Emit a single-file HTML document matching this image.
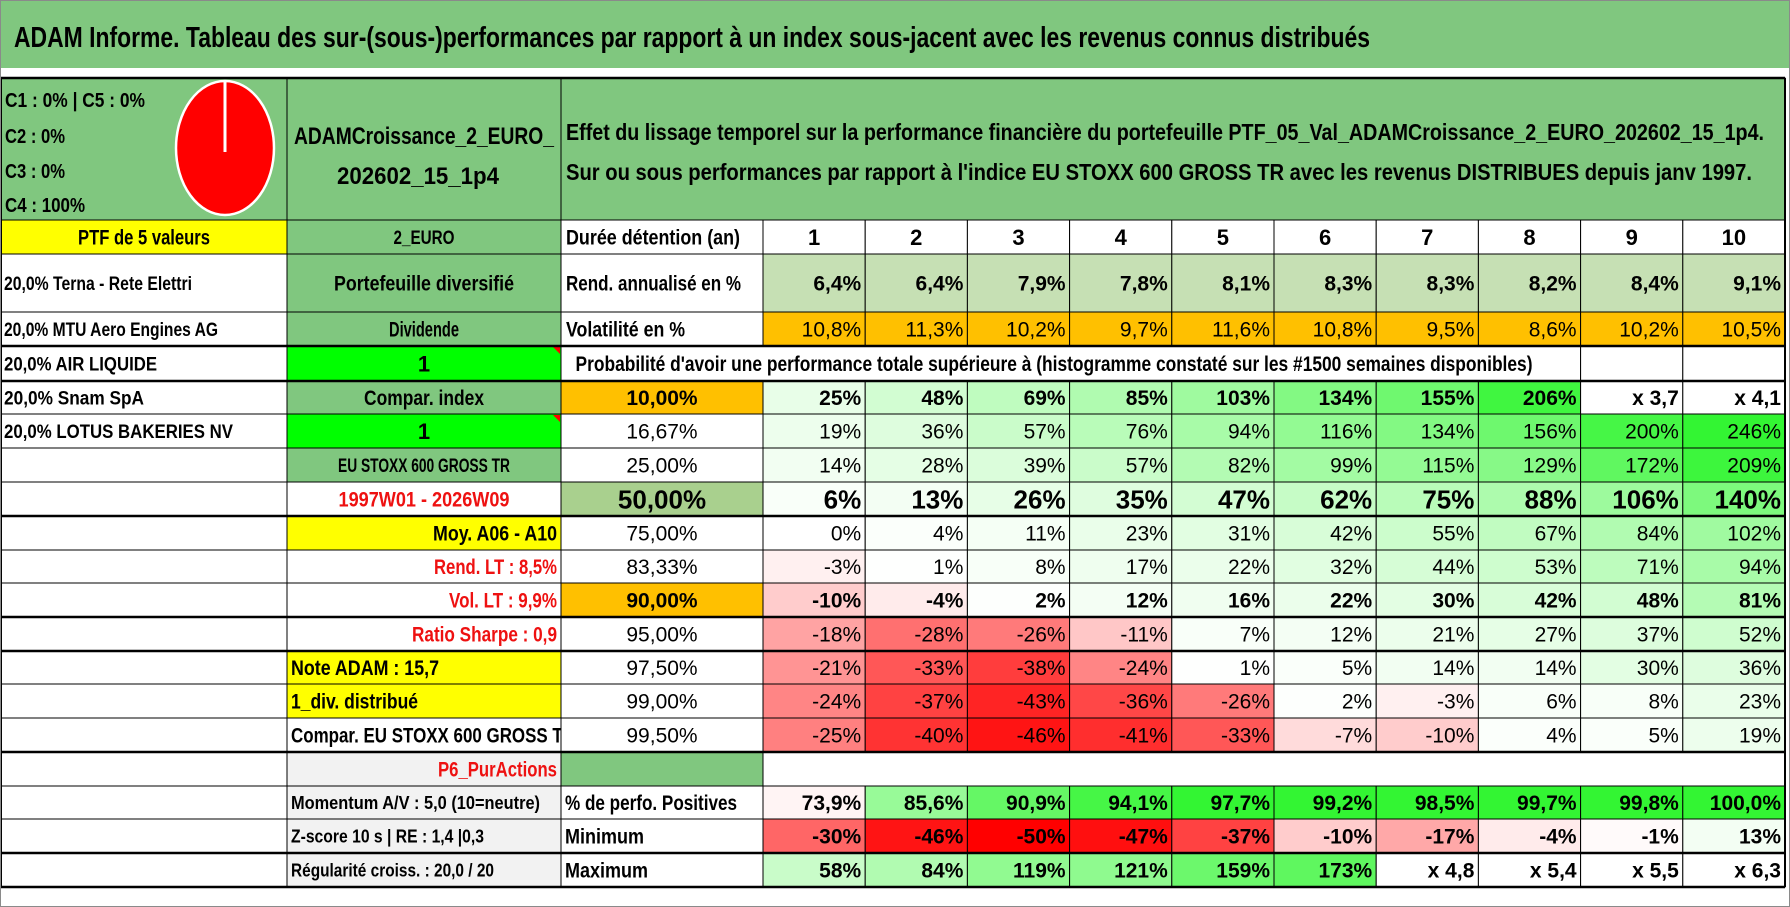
<!DOCTYPE html>
<html><head><meta charset="utf-8"><title>ADAM Informe</title>
<style>
html,body{margin:0;padding:0;background:#fff;width:1790px;height:907px;overflow:hidden}
svg{display:block}
text{font-family:"Liberation Sans",sans-serif}
</style></head>
<body>
<svg id="sheet" xmlns="http://www.w3.org/2000/svg" width="1790" height="907" viewBox="0 0 1790 907"></svg>
<script>
const years=["1","2","3","4","5","6","7","8","9","10"];
const rendValues=["6,4%","6,4%","7,9%","7,8%","8,1%","8,3%","8,3%","8,2%","8,4%","9,1%"];
const volValues=["10,8%","11,3%","10,2%","9,7%","11,6%","10,8%","9,5%","8,6%","10,2%","10,5%"];
const probLabels=["10,00%","16,67%","25,00%","50,00%","75,00%","83,33%","90,00%","95,00%","97,50%","99,00%","99,50%"];
const probValues=[
 [25,48,69,85,103,134,155,206,"x 3,7","x 4,1"],
 [19,36,57,76,94,116,134,156,200,246],
 [14,28,39,57,82,99,115,129,172,209],
 [6,13,26,35,47,62,75,88,106,140],
 [0,4,11,23,31,42,55,67,84,102],
 [-3,1,8,17,22,32,44,53,71,94],
 [-10,-4,2,12,16,22,30,42,48,81],
 [-18,-28,-26,-11,7,12,21,27,37,52],
 [-21,-33,-38,-24,1,5,14,14,30,36],
 [-24,-37,-43,-36,-26,2,-3,6,8,23],
 [-25,-40,-46,-41,-33,-7,-10,4,5,19]
];
const positiveValues=[73.9,85.6,90.9,94.1,97.7,99.2,98.5,99.7,99.8,100.0];
const minimumValues=[-30,-46,-50,-47,-37,-10,-17,-4,-1,13];
const maximumValues=[58,84,119,121,159,173,"x 4,8","x 5,4","x 5,5","x 6,3"];
const stockNames=["20,0% Terna - Rete Elettri","20,0% MTU Aero Engines AG","20,0% AIR LIQUIDE","20,0% Snam SpA","20,0% LOTUS BAKERIES NV"];

const NS="http://www.w3.org/2000/svg";
const svg=document.getElementById('sheet');
const GREEN="#80c77f", LGREEN="#c6e0b4", ORANGE="#ffc000", YELLOW="#ffff00", RED="#ee1111", GRAY="#f2f2f2";
const XA=0, XB=287, XC=561, X1=763, CW=102.2, XEND=1785;
function colX(k){return X1+k*CW;}
const rowTops=[220,254,312,346,381,414,448,482,516,550,583,617,651,684,718,752,786,819,853,887];
function rowY(i){return rowTops[i];}
function rowH(i){return rowTops[i+1]-rowTops[i];}

function rect(x,y,w,h,fill,name,stroke){
  const r=document.createElementNS(NS,'rect');
  r.setAttribute('x',x);r.setAttribute('y',y);r.setAttribute('width',w);r.setAttribute('height',h);
  r.setAttribute('fill',fill);
  if(stroke!==false){r.setAttribute('stroke','#000');r.setAttribute('stroke-width','1');}
  
  
  svg.appendChild(r);return r;
}
function txt(x,y,s,o,name){
  const t=document.createElementNS(NS,'text');
  t.setAttribute('x',x);t.setAttribute('y',y);
  t.setAttribute('font-size',o.size||21);
  if(o.bold)t.setAttribute('font-weight','bold');
  t.setAttribute('fill',o.color||'#000');
  t.setAttribute('text-anchor',o.anchor||'start');
  if(o.len){t.setAttribute('textLength',o.len);t.setAttribute('lengthAdjust','spacingAndGlyphs');}
  if(o.clip)t.setAttribute('clip-path',o.clip);
  t.textContent=s;
  
  
  svg.appendChild(t);return t;
}
function line(x1,y1,x2,y2,w,c,name){
  const l=document.createElementNS(NS,'line');
  l.setAttribute('x1',x1);l.setAttribute('y1',y1);l.setAttribute('x2',x2);l.setAttribute('y2',y2);
  l.setAttribute('stroke',c||'#000');l.setAttribute('stroke-width',w);
  
  
  svg.appendChild(l);return l;
}
function heat(v){
  if(typeof v==='string')return '#ffffff';
  if(v<0){const t=Math.min(1,-v/50);const g=Math.round(255-255*t);return `rgb(255,${g},${g})`;}
  const t=Math.min(1,v/220);const rb=Math.round(255-204*t);const g=Math.round(255-10*t);return `rgb(${rb},${g},${rb})`;
}
function fmt(v){return typeof v==='string'?v:v+'%';}
function base(i,size){return rowY(i)+rowH(i)/2+(size||21)*0.36;}

// title
rect(0,0,1790,68,GREEN,'title-band',false);
txt(14,47,"ADAM Informe. Tableau des sur-(sous-)performances par rapport à un index sous-jacent avec les revenus connus distribués",{size:29,bold:true,len:1356},'page-title');

// header row
rect(XA,78,XB-XA,142,GREEN,'composition-cell');
txt(5,107,"C1 : 0% | C5 : 0%",{size:20,bold:true,len:140},'composition-c1-c5');
txt(5,143,"C2 : 0%",{size:20,bold:true,len:60},'composition-c2');
txt(5,178,"C3 : 0%",{size:20,bold:true,len:60},'composition-c3');
txt(5,212,"C4 : 100%",{size:20,bold:true,len:80},'composition-c4');
const pie=document.createElementNS(NS,'ellipse');
pie.setAttribute('cx',225);pie.setAttribute('cy',148);pie.setAttribute('rx',49);pie.setAttribute('ry',67);
pie.setAttribute('fill','#ff0000');pie.setAttribute('stroke','#fff');pie.setAttribute('stroke-width','2.5');


svg.appendChild(pie);
line(225,82,225,152,3,'#fff','pie-divider');
rect(XB,78,XC-XB,142,GREEN,'portfolio-name-cell');
txt(424,144,"ADAMCroissance_2_EURO_",{size:24,bold:true,anchor:'middle',len:260},'portfolio-name-line1');
txt(418,184,"202602_15_1p4",{size:24,bold:true,anchor:'middle',len:162},'portfolio-name-line2');
rect(XC,78,XEND-XC,142,GREEN,'description-cell');
txt(566,140,"Effet du lissage temporel sur la performance financière du portefeuille PTF_05_Val_ADAMCroissance_2_EURO_202602_15_1p4.",{size:23,bold:true,len:1198},'description-line1');
txt(566,180,"Sur ou sous performances par rapport à l'indice EU STOXX 600 GROSS TR avec les revenus DISTRIBUES depuis janv 1997.",{size:23,bold:true,len:1186},'description-line2');

// row 0
rect(XA,rowY(0),XB,rowH(0),YELLOW,'ptf-count-cell');
txt(144,base(0),"PTF de 5 valeurs",{bold:true,anchor:'middle',len:132},'ptf-count-label');
rect(XB,rowY(0),XC-XB,rowH(0),GREEN,'currency-cell');
txt(424,base(0,19),"2_EURO",{size:19,bold:true,anchor:'middle',len:61},'currency-label');
rect(XC,rowY(0),X1-XC,rowH(0),'#fff','holding-duration-label-cell');
txt(566,base(0),"Durée détention (an)",{bold:true,len:174},'holding-duration-label');
years.forEach((y,k)=>{
  rect(colX(k),rowY(0),CW,rowH(0),'#fff','year-header-cell');
  txt(colX(k)+CW/2,base(0,22),y,{size:22,bold:true,anchor:'middle'},'year-header-'+y);
});

// row 1-2
rect(XC,rowY(1),X1-XC,rowH(1),'#fff','annual-return-label-cell');
txt(566,base(1),"Rend. annualisé en %",{bold:true,len:175},'annual-return-label');
rendValues.forEach((v,k)=>{
  rect(colX(k),rowY(1),CW,rowH(1),LGREEN,'annual-return-cell');
  txt(colX(k)+CW-4,base(1),v,{bold:true,anchor:'end'},'annual-return-value');
});
rect(XC,rowY(2),X1-XC,rowH(2),'#fff','volatility-label-cell');
txt(566,base(2),"Volatilité en %",{bold:true,len:119},'volatility-label');
volValues.forEach((v,k)=>{
  rect(colX(k),rowY(2),CW,rowH(2),ORANGE,'volatility-cell');
  txt(colX(k)+CW-4,base(2),v,{anchor:'end'},'volatility-value');
});

// col A names
const nameLens=[188,214,153,140,229];
stockNames.forEach((n,i)=>{
  rect(XA,rowY(i+1),XB,rowH(i+1),'#fff','holding-cell');
  txt(4,base(i+1,19),n,{size:19,bold:true,len:nameLens[i]},'holding-name');
});
for(let i=6;i<19;i++){rect(XA,rowY(i),XB,rowH(i),'#fff','empty-cell');}

// col B
const colB=[
 [1,GREEN,"Portefeuille diversifié",'middle',180,'#000',21],
 [2,GREEN,"Dividende",'middle',70,'#000',21],
 [3,'#00ff00',"1",'middle',0,'#000',22],
 [4,GREEN,"Compar. index",'middle',120,'#000',21],
 [5,'#00ff00',"1",'middle',0,'#000',22],
 [6,GREEN,"EU STOXX 600 GROSS TR",'middle',172,'#000',19],
 [7,'#fff',"1997W01 - 2026W09",'middle',171,RED,21],
 [8,YELLOW,"Moy. A06 - A10",'end',124,'#000',21],
 [9,'#fff',"Rend. LT : 8,5%",'end',123,RED,21],
 [10,'#fff',"Vol. LT : 9,9%",'end',108,RED,21],
 [11,'#fff',"Ratio Sharpe : 0,9",'end',145,RED,21],
 [12,YELLOW,"Note ADAM : 15,7",'start',148,'#000',21],
 [13,YELLOW,"1_div. distribué",'start',127,'#000',21],
 [14,'#fff',"Compar. EU STOXX 600 GROSS TR",'start',284,'#000',21],
 [15,GRAY,"P6_PurActions",'end',119,RED,21],
 [16,GRAY,"Momentum A/V : 5,0 (10=neutre)",'start',249,'#000',18],
 [17,GRAY,"Z-score 10 s | RE : 1,4 |0,3",'start',193,'#000',18],
 [18,GRAY,"Régularité croiss. : 20,0 / 20",'start',203,'#000',18]
];
const cp=document.createElementNS(NS,'clipPath');cp.setAttribute('id','clipB');
const cr=document.createElementNS(NS,'rect');cr.setAttribute('x',XB);cr.setAttribute('y',0);cr.setAttribute('width',XC-XB);cr.setAttribute('height',907);
cp.appendChild(cr);svg.appendChild(cp);
colB.forEach(c=>{
  const [i,fill,s,anchor,len,color,size]=c;
  rect(XB,rowY(i),XC-XB,rowH(i),fill,'info-cell');
  const x=anchor==='middle'?424:(anchor==='end'?557:291);
  const o={size:size,bold:true,anchor:anchor,color:color,clip:'url(#clipB)'};
  if(len)o.len=len;
  txt(x,base(i,size),s,o,'info-label');
});
function tri(x,y,name){
  const p=document.createElementNS(NS,'polygon');
  p.setAttribute('points',`${x-7},${y} ${x},${y} ${x},${y+7}`);p.setAttribute('fill','#ff0000');
  
  
  svg.appendChild(p);
}
tri(XC-1,rowY(3)+1,'comment-marker');
tri(XC-1,rowY(5)+1,'comment-marker');

// probability header row
rect(XC,rowY(3),colX(8)-XC,rowH(3),'#fff','probability-title-cell');
txt(1054,base(3),"Probabilité d'avoir une performance totale supérieure à (histogramme constaté sur les #1500 semaines disponibles)",{bold:true,anchor:'middle',len:957},'probability-title');
rect(colX(8),rowY(3),CW,rowH(3),'#fff','empty-cell');
rect(colX(9),rowY(3),CW,rowH(3),'#fff','empty-cell');

// probability rows
const boldRows={0:true,3:true,6:true};
probLabels.forEach((lab,j)=>{
  const i=j+4;
  const fill=(j===0||j===6)?ORANGE:(j===3?'#a9d08e':'#fff');
  const sz=j===3?26:21;
  rect(XC,rowY(i),X1-XC,rowH(i),fill,'threshold-cell');
  txt(662,base(i,sz),lab,{size:sz,bold:!!boldRows[j],anchor:'middle'},'threshold-label');
  probValues[j].forEach((v,k)=>{
    rect(colX(k),rowY(i),CW,rowH(i),heat(v),'probability-cell');
    txt(colX(k)+CW-4,base(i,sz),fmt(v),{size:sz,bold:!!boldRows[j],anchor:'end'},'probability-value');
  });
});

// P6 row
rect(XC,rowY(15),X1-XC,rowH(15),GREEN,'p6-marker-cell');
rect(X1,rowY(15),XEND-X1,rowH(15),'#fff','empty-band');

// stats rows
const statLabels=[["% de perfo. Positives",172],["Minimum",79],["Maximum",83]];
statLabels.forEach((s,j)=>{
  rect(XC,rowY(16+j),X1-XC,rowH(16+j),'#fff','stat-label-cell');
  txt(565,base(16+j),s[0],{bold:true,len:s[1]},'stat-label');
});
positiveValues.forEach((v,k)=>{
  const t=Math.max(0,(v-75)/22);
  const fill=v<75?'#fff4f4':heat(Math.min(1,t)*230);
  rect(colX(k),rowY(16),CW,rowH(16),fill,'positive-share-cell');
  txt(colX(k)+CW-4,base(16),v.toFixed(1).replace('.',',')+'%',{bold:true,anchor:'end'},'positive-share-value');
});
minimumValues.forEach((v,k)=>{
  rect(colX(k),rowY(17),CW,rowH(17),heat(v),'minimum-cell');
  txt(colX(k)+CW-4,base(17),fmt(v),{bold:true,anchor:'end'},'minimum-value');
});
maximumValues.forEach((v,k)=>{
  rect(colX(k),rowY(18),CW,rowH(18),heat(v),'maximum-cell');
  txt(colX(k)+CW-4,base(18),fmt(v),{bold:true,anchor:'end'},'maximum-value');
});

// thick lines
[78,346,381,516,617,651,752,853,887].forEach(y=>{line(0,y,XEND,y,2.5,'#000','thick-row-border');});
line(XEND,78,XEND,887,2,'#000','table-right-border');
line(1,78,1,887,2,'#000','table-left-border');
// outer frame
const fr=document.createElementNS(NS,'rect');
fr.setAttribute('x',0.5);fr.setAttribute('y',0.5);fr.setAttribute('width',1789);fr.setAttribute('height',906);
fr.setAttribute('fill','none');fr.setAttribute('stroke','#8a8a8a');fr.setAttribute('stroke-width','1');


svg.appendChild(fr);
</script>
</body></html>
